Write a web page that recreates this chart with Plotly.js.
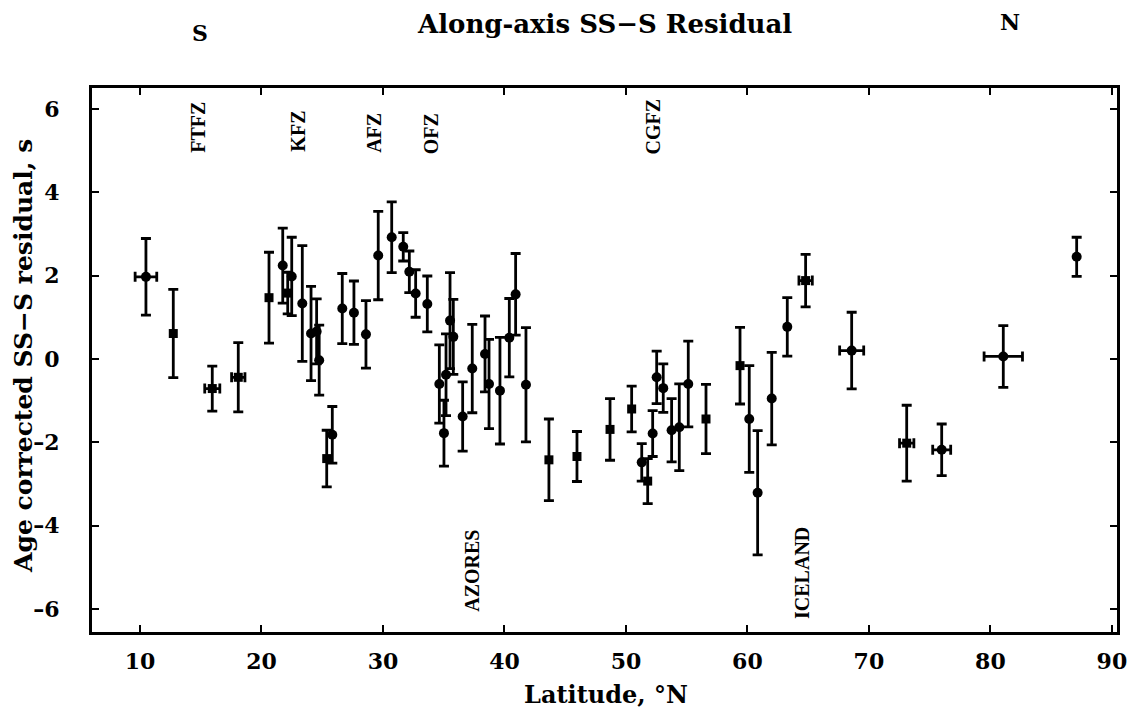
<!DOCTYPE html>
<html>
<head>
<meta charset="utf-8">
<script src="https://cdn.plot.ly/plotly-3.0.1.min.js"></script>
<style>html,body{margin:0;padding:0;background:#fff;}#chart{width:1132px;height:717px;}</style>
</head>
<body>
<div id="chart"></div>
<script>
// ---- Data ----
// Circle symbols
var circLat  = [10.49, 21.75, 22.49, 23.36, 24.08, 24.54, 24.75, 25.83, 26.65, 27.61, 28.60, 29.61, 30.72, 31.67, 32.17, 32.69, 33.65, 34.64, 35.02, 35.19, 35.52, 35.79, 36.56, 37.35, 38.40, 38.73, 39.63, 40.40, 40.92, 41.77, 51.30, 52.20, 52.53, 53.07, 53.76, 54.39, 55.13, 60.15, 60.84, 62.00, 63.28, 68.58, 75.99, 81.06, 87.10];
var circRes  = [1.97, 2.24, 1.98, 1.33, 0.61, 0.66, -0.03, -1.82, 1.21, 1.11, 0.59, 2.48, 2.92, 2.69, 2.09, 1.57, 1.32, -0.60, -1.78, -0.38, 0.92, 0.53, -1.38, -0.23, 0.12, -0.60, -0.76, 0.51, 1.55, -0.62, -2.48, -1.79, -0.44, -0.70, -1.71, -1.64, -0.60, -1.44, -3.21, -0.95, 0.77, 0.20, -2.18, 0.06, 2.45];
var circErrY = [0.92, 0.90, 0.94, 1.39, 1.13, 0.78, 0.84, 0.68, 0.84, 0.76, 0.81, 1.06, 0.85, 0.34, 0.50, 0.57, 0.67, 0.94, 0.79, 0.98, 1.15, 0.90, 0.83, 1.06, 0.91, 1.07, 1.28, 0.94, 0.98, 1.37, 0.45, 0.55, 0.63, 0.58, 0.76, 1.04, 1.03, 1.28, 1.49, 1.11, 0.70, 0.92, 0.62, 0.74, 0.47];
var circErrX = [0.89, 0, 0, 0, 0, 0, 0, 0, 0, 0, 0, 0, 0, 0, 0, 0, 0, 0, 0, 0, 0, 0, 0, 0, 0, 0, 0, 0, 0, 0, 0, 0, 0, 0, 0, 0, 0, 0, 0, 0, 0, 0.99, 0.74, 1.58, 0];
// Square symbols
var sqLat  = [12.74, 15.95, 18.09, 20.62, 22.16, 25.37, 43.66, 45.97, 48.69, 50.47, 51.79, 56.59, 59.39, 64.79, 73.11];
var sqRes  = [0.61, -0.71, -0.44, 1.47, 1.58, -2.39, -2.42, -2.34, -1.69, -1.20, -2.93, -1.44, -0.16, 1.88, -2.02];
var sqErrY = [1.06, 0.54, 0.83, 1.09, 0.50, 0.68, 0.98, 0.60, 0.74, 0.55, 0.54, 0.83, 0.92, 0.63, 0.91];
var sqErrX = [0, 0.62, 0.55, 0, 0, 0, 0, 0, 0, 0, 0, 0, 0, 0.55, 0.59];
// Feature labels
var featNames = ["FTFZ", "KFZ", "AFZ", "OFZ", "CGFZ", "AZORES", "ICELAND"];
var featLat   = [14.77, 23.03, 29.20, 34.03, 52.20, 37.30, 64.47];
var featRes   = [5.57, 5.46, 5.43, 5.41, 5.57, -5.09, -5.14];
// Axis ticks
var xTicks = [10, 20, 30, 40, 50, 60, 70, 80, 90];
var yTicks = [-6, -4, -2, 0, 2, 4, 6];
var yTickText = ["\u20136", "\u20134", "\u20132", "0", "2", "4", "6"];
// Texts
var titleText = "Along-axis SS\u2212S Residual";
var xTitle = "Latitude, \u00b0N";
var yTitle = "Age corrected SS\u2212S residual, s";

var FONT = "DejaVu Serif, Liberation Serif, serif";

function subset(arr, idx) { return idx.map(function (i) { return arr[i]; }); }
function makeTraces(lat, res, ey, ex, symbol) {
  var withX = [], noX = [];
  for (var i = 0; i < lat.length; i++) { (ex[i] > 0 ? withX : noX).push(i); }
  var base = {
    type: "scatter", mode: "markers", showlegend: false, hoverinfo: "x+y",
    marker: { symbol: symbol, size: symbol === "square" ? 9 : 10, color: "#000" }
  };
  var errStyle = { type: "data", visible: true, color: "#000", thickness: 2.8, width: 5 };
  var t1 = Object.assign({}, base, {
    x: subset(lat, noX), y: subset(res, noX),
    error_y: Object.assign({ array: subset(ey, noX) }, errStyle)
  });
  var t2 = Object.assign({}, base, {
    x: subset(lat, withX), y: subset(res, withX),
    error_y: Object.assign({ array: subset(ey, withX) }, errStyle),
    error_x: Object.assign({ array: subset(ex, withX) }, errStyle)
  });
  return [t1, t2];
}

var traces = makeTraces(circLat, circRes, circErrY, circErrX, "circle")
  .concat(makeTraces(sqLat, sqRes, sqErrY, sqErrX, "square"));

var annotations = featNames.map(function (n, i) {
  return {
    x: featLat[i], y: featRes[i], xref: "x", yref: "y", text: n, showarrow: false,
    textangle: -90, font: { family: "Liberation Serif, serif", size: 20, weight: "bold", color: "#000" }
  };
});

var W = 1132, H = 717, M = { l: 92, r: 15, t: 88, b: 85 };
function px2paper(px, py) {
  return { x: (px - M.l) / (W - M.l - M.r), y: 1 - (py - M.t) / (H - M.t - M.b) };
}
// page texts placed at pixel positions measured on the figure
var pageTexts = [
  { px: 200, py: 33, text: "S", size: 22, angle: 0 },
  { px: 1010, py: 22, text: "N", size: 22, angle: 0 },
  { px: 604, py: 24, text: titleText, size: 26, angle: 0 },
  { px: 606, py: 694, text: xTitle, size: 24, angle: 0 },
  { px: 23, py: 356, text: yTitle, size: 25, angle: -90 }
];
pageTexts.forEach(function (t) {
  var p = px2paper(t.px, t.py);
  annotations.push({
    x: p.x, y: p.y, xref: "paper", yref: "paper", text: t.text, showarrow: false,
    xanchor: "center", yanchor: "middle", textangle: t.angle,
    font: { family: FONT, size: t.size, weight: "bold", color: "#000" }
  });
});

var axisCommon = {
  showline: true, linecolor: "#000", linewidth: 3, mirror: "ticks",
  ticks: "inside", ticklen: 7, tickwidth: 2, tickcolor: "#000",
  showgrid: false, zeroline: false,
  tickfont: { family: FONT, size: 22, weight: "bold", color: "#000" }
};

var layout = {
  width: W, height: H, margin: M,
  paper_bgcolor: "#fff", plot_bgcolor: "#fff",
  xaxis: Object.assign({}, axisCommon, {
    range: [6.05, 90.42], tickmode: "array", tickvals: xTicks, ticktext: xTicks.map(String),
    ticklabelstandoff: 8
  }),
  yaxis: Object.assign({}, axisCommon, {
    range: [-6.55, 6.5], tickmode: "array", tickvals: yTicks, ticktext: yTickText,
    ticklabelstandoff: 25
  }),
  annotations: annotations
};

Plotly.newPlot("chart", traces, layout, { displayModeBar: false, staticPlot: true });
</script>
</body>
</html>
